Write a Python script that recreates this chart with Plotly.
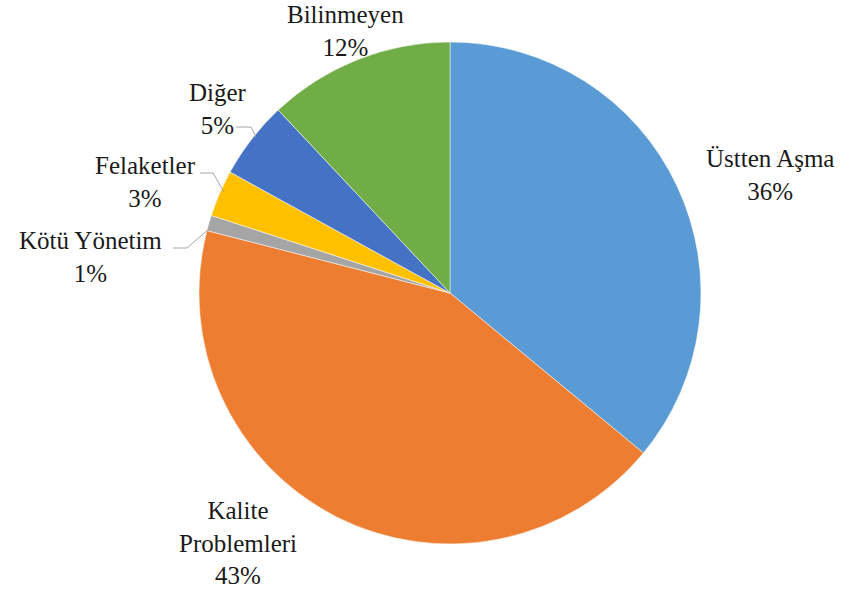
import plotly.graph_objects as go

W, H = 844, 593

categories = ["Üstten Aşma", "Kalite Problemleri", "Kötü Yönetim", "Felaketler", "Diğer", "Bilinmeyen"]
values = [36, 43, 1, 3, 5, 12]
colors = ["#5B9BD5", "#ED7D31", "#A5A5A5", "#FFC000", "#4472C4", "#70AD47"]
label_lines = ["Üstten Aşma", "Kalite<br>Problemleri", "Kötü Yönetim", "Felaketler", "Diğer", "Bilinmeyen"]

# label block centres (pixels) and leader lines (pixels)
label_pos = [(770, 175), (238, 543), (90, 257), (145, 182), (218, 109), (345, 31)]
leaders = {
    3: [(200, 173), (213, 173), (224, 192)],
    2: [(173, 248), (187, 248), (210, 228)],
    4: [(236, 127), (251, 127), (256, 137)],
}

def px(x, y):
    return x / W, 1 - y / H

cx, cy, r = 450, 293, 251
fig = go.Figure(go.Pie(
    labels=categories, values=values, sort=False, direction="clockwise",
    rotation=0, marker=dict(colors=colors, line=dict(color="white", width=0.5)),
    textinfo="none", hoverinfo="label+percent",
    domain=dict(x=[(cx - r) / W, (cx + r) / W], y=[1 - (cy + r) / H, 1 - (cy - r) / H]),
))

total = sum(values)
for i, (lab, v) in enumerate(zip(label_lines, values)):
    x, y = px(*label_pos[i])
    fig.add_annotation(x=x, y=y, xref="paper", yref="paper", showarrow=False,
                       text=f"{lab}<br>{round(100 * v / total)}%",
                       font=dict(family="'Liberation Serif', serif", size=25, color="#1a1a1a"),
                       xanchor="center", yanchor="middle", align="center")

for i, pts in leaders.items():
    path = "M " + " L ".join(f"{px(a, b)[0]},{px(a, b)[1]}" for a, b in pts)
    fig.add_shape(type="path", path=path, xref="paper", yref="paper",
                  line=dict(color="#A6A6A6", width=1))

fig.update_layout(width=W, height=H, margin=dict(l=0, r=0, t=0, b=0),
                  showlegend=False, paper_bgcolor="white", plot_bgcolor="white")
fig.write_html("out.html", config={"displayModeBar": False},
               post_script="document.body.style.margin='0';")
